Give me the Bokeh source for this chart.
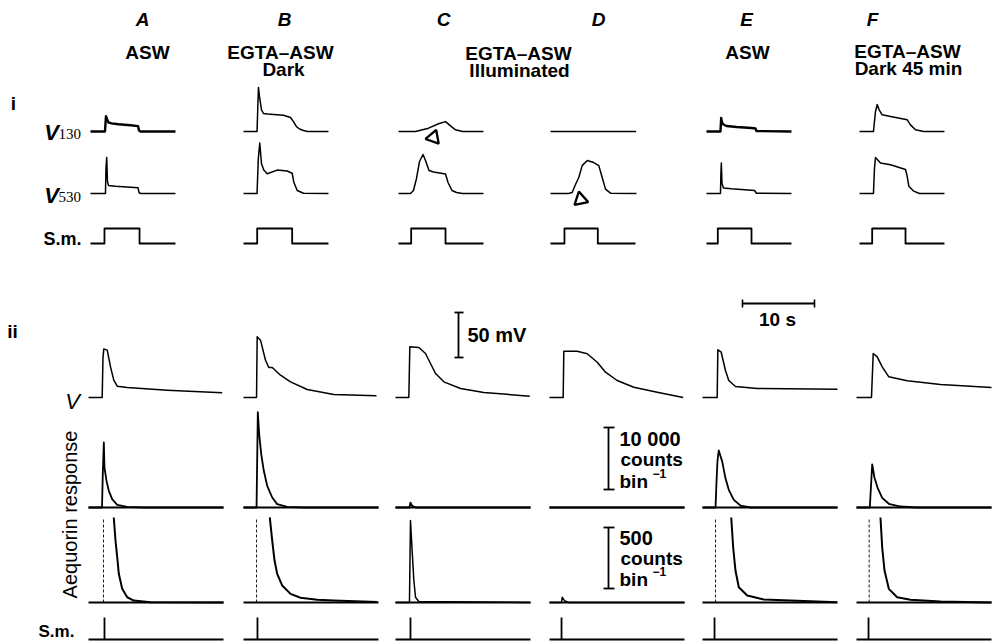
import math
from bokeh.plotting import figure
from bokeh.models import Range1d, Label
from bokeh.embed import file_html
from bokeh.resources import INLINE

# ---------------------------------------------------------------- data
# Section i traces: time (s) and membrane potential (mV, relative to rest)
A_V130_T = [0, 2.01, 2.15, 2.29, 2.5, 2.92, 3.89, 5.56, 6.6, 6.74, 6.94, 11.8]
A_V130_V = [0, 0, 17, 14, 10, 9, 8, 7, 6, 1, 0, 0]
B_V130_T = [0, 1.88, 1.99, 2.08, 2.22, 2.5, 2.78, 3.33, 5.56, 6.53, 6.94, 7.36, 7.78, 8.33, 8.89, 11.8]
B_V130_V = [0, 0, 28, 49, 39, 24, 20, 19.5, 18, 15.5, 11, 5.5, 2.8, 1.1, 0, 0]
C_V130_T = [0, 2.36, 4.17, 5.56, 6.53, 7.22, 7.92, 8.89, 11.8]
C_V130_V = [0, 0, 3.7, 8.6, 11, 6.3, 1.9, 0, 0]
D_V130_T = [0, 11.9]
D_V130_V = [0, 0]
E_V130_T = [0, 1.94, 2.04, 2.15, 2.36, 2.78, 4.17, 6.25, 6.81, 6.94, 11.8]
E_V130_V = [0, 0, 15, 10, 7.8, 6.1, 5, 3.9, 3.3, 0.5, 0]
F_V130_T = [0, 1.94, 2.22, 2.46, 2.71, 3.15, 4.31, 6.63, 7.08, 7.78, 8.89, 11.8]
F_V130_V = [0, 0, 22, 30, 24.4, 18.5, 16.7, 13, 7.4, 1.9, 0, 0]

A_V530_T = [0, 2.08, 2.15, 2.25, 2.36, 2.5, 3.47, 5.56, 6.6, 6.74, 6.94, 11.8]
A_V530_V = [0, 0, 28, 40, 13, 9, 8, 7, 6.5, 1, 0, 0]
B_V530_T = [0, 1.88, 2.06, 2.26, 2.5, 2.82, 3.29, 4.68, 6.07, 6.76, 6.99, 7.46, 8.33, 11.8]
B_V530_V = [0, 0, 39, 56, 33, 26, 22, 26, 25, 22.5, 12.5, 3.3, 0.3, 0]
C_V530_T = [0, 1.67, 2.08, 2.5, 2.92, 3.40, 3.75, 4.24, 4.86, 6.53, 6.88, 7.43, 8.06, 8.89, 11.8]
C_V530_V = [0, 0, 3.3, 16.7, 35.6, 43.3, 36.7, 25.6, 23.9, 21.7, 12.2, 3.3, 1.1, 0, 0]
D_V530_T = [0, 2.5, 3.01, 3.47, 3.93, 4.40, 5.10, 6.01, 6.71, 7.18, 7.64, 8.33, 11.94]
D_V530_V = [0, 0, 1.1, 10, 17.8, 31, 36.7, 34.4, 31, 17.8, 4.9, 0.4, 0]
E_V530_T = [0, 1.94, 2.0, 2.06, 2.15, 2.36, 3.47, 6.67, 6.94, 11.8]
E_V530_V = [0, 0, 22, 34, 11, 6.1, 5.2, 3.3, 0.3, 0]
F_V530_T = [0, 1.94, 2.08, 2.22, 2.92, 4.31, 6.39, 6.60, 6.85, 7.54, 8.33, 11.8]
F_V530_V = [0, 0, 28, 40, 34, 32, 26.7, 20, 8.1, 2.6, 0, 0]

# Section i stimulus (S.m.) pulses: on / off times (s)
SM_I_ON = [1.94, 1.9, 1.76, 1.94, 1.57, 1.76]
SM_I_OFF = [6.81, 6.76, 6.53, 6.57, 6.25, 6.39]
SM_I_END = 11.8

# Section ii: membrane potential V (mV)
A_VII_T = [0, 1.9, 2.01, 2.13, 2.6, 3.06, 3.51, 3.99, 5.38, 10.93, 18.57]
A_VII_V = [0, 0, 44, 54, 52.6, 34, 19.3, 12.6, 11.1, 8.1, 5.2]
B_VII_T = [0, 1.81, 1.9, 2.36, 3.06, 3.51, 3.99, 5.14, 6.53, 8.85, 12.54, 18.47]
B_VII_V = [0, 0, 67.4, 63.7, 41.4, 33.3, 33.3, 24.8, 17.4, 8.9, 3.3, 1.9]
C_VII_T = [0, 1.85, 1.99, 3.24, 4.17, 4.86, 5.56, 6.71, 9.03, 12.26, 18.65]
C_VII_V = [0, 0, 56.3, 55.6, 48.9, 37.8, 26.7, 17.4, 10, 5.6, 1.4]
D_VII_T = [0, 1.9, 1.99, 3.85, 5.24, 6.63, 7.78, 9.4, 11.71, 14.96, 18.57]
D_VII_V = [0, 0, 51.4, 51.4, 48.6, 39.2, 28.1, 18.9, 11.4, 5.9, 0]
E_VII_T = [0, 2.04, 2.13, 2.6, 3.19, 3.65, 4.58, 7.6, 18.75]
E_VII_V = [0, 0, 53, 50.3, 30, 18.9, 12.2, 10, 9.2]
F_VII_T = [0, 2.08, 2.32, 2.88, 3.57, 4.49, 7.04, 11.67, 18.75]
F_VII_V = [0, 0, 48.9, 45.2, 34.1, 23, 18.5, 14.4, 11.1]

# Aequorin response, high-gain scale (counts bin^-1)
A_AQ1_T = [0, 1.875, 1.99, 2.13, 2.22, 2.5, 2.82, 3.29, 3.99, 5.38, 7.64, 18.75]
A_AQ1_C = [0, 0, 5650, 10480, 6450, 4300, 2690, 1350, 430, 110, 0, 0]
B_AQ1_T = [0, 1.81, 1.99, 2.18, 2.46, 2.82, 3.29, 3.99, 4.68, 6.07, 8.33, 18.75]
B_AQ1_C = [0, 0, 15370, 11830, 8600, 5920, 3500, 1610, 540, 110, 0, 0]
C_AQ1_T = [0, 1.94, 2.08, 2.29, 2.78, 18.75]
C_AQ1_C = [0, 0, 800, 300, 0, 0]
D_AQ1_T = [0, 18.75]
D_AQ1_C = [0, 0]
E_AQ1_T = [0, 1.81, 1.94, 2.08, 2.26, 2.74, 3.19, 3.65, 4.35, 5.28, 6.67, 18.75]
E_AQ1_C = [0, 0, 4000, 7500, 9200, 7400, 4700, 2850, 1240, 320, 0, 0]
F_AQ1_T = [0, 1.85, 2.18, 2.5, 2.96, 3.57, 4.49, 6.11, 8.33, 18.75]
F_AQ1_C = [0, 0, 6940, 4800, 3070, 1560, 600, 160, 0, 0]

# Aequorin response, low scale (counts bin^-1); off-scale onsets and visible decays
AQ2_CLIP = 697
A_AQ2_ONSET = 2.08
A_AQ2_T = [3.51, 3.75, 3.99, 4.21, 4.68, 5.38, 6.29, 8.61, 18.75]
A_AQ2_C = [697, 508, 371, 235, 112, 43, 16, 2, 0]
B_AQ2_ONSET = 1.81
B_AQ2_T = [3.65, 3.99, 4.31, 4.68, 5.38, 6.53, 7.92, 10.24, 12.54, 18.6]
B_AQ2_C = [697, 508, 344, 235, 139, 71, 39, 22, 16, 4]
C_AQ2_T = [0, 1.94, 2.08, 2.31, 2.55, 2.78, 3.24, 18.75]
C_AQ2_C = [0, 0, 672, 426, 180, 43, 8, 0]
D_AQ2_T = [0, 1.67, 1.76, 2.08, 2.64, 18.75]
D_AQ2_C = [0, 0, 43, 15, 0, 0]
E_AQ2_ONSET = 1.81
E_AQ2_T = [3.99, 4.26, 4.58, 5.04, 6.21, 8.51, 12.22, 18.7]
E_AQ2_C = [697, 451, 262, 125, 57, 25, 16, 2]
F_AQ2_ONSET = 1.76
F_AQ2_T = [3.33, 3.57, 3.89, 4.49, 5.65, 7.5, 11.67, 18.75]
F_AQ2_C = [697, 451, 262, 112, 43, 22, 8, 0]

# Section ii stimulus (S.m.) times (s)
SM_II_T = [2.22, 1.94, 2.08, 1.67, 1.67, 1.67]
T_END_II = 18.75

# Onset arrows (time s, mV)
ARROW_C_V130 = (4.86, -6.7)
ARROW_D_V530 = (4.17, -6.7)

# Scale bars
BAR_MV = 50
BAR_S = 10
BAR_CNT_HI = 10000
BAR_CNT_LO = 500

COLS = ["A", "B", "C", "D", "E", "F"]

# ---------------------------------------------------------------- layout
W, H = 993, 642
PX_PER_S = 7.2
PX_PER_MV = 0.9
PX_PER_CNT_HI = 0.0062
PX_PER_CNT_LO = 0.122
SM_I_PX = 15
SM_II_PX = 22

COL_X_I = [90, 243, 398, 550, 706, 859]
COL_X_II = [88, 243, 395, 549, 702, 856]
BASE_V130, BASE_V530, BASE_SMI = 131, 193, 243
BASE_VII, BASE_AQ1, BASE_AQ2, BASE_SMII = 397, 507, 602, 639

p = figure(width=W, height=H, x_range=Range1d(0, W), y_range=Range1d(H, 0),
           x_axis_location=None, y_axis_location=None, toolbar_location=None,
           output_backend="svg", min_border=0)
p.grid.grid_line_color = None
p.outline_line_color = None
p.background_fill_color = "white"
p.border_fill_color = "white"

xr = {}
for c, x0 in zip(COLS, COL_X_I):
    xr["i" + c] = Range1d(-x0 / PX_PER_S, (W - x0) / PX_PER_S)
for c, x0 in zip(COLS, COL_X_II):
    xr["ii" + c] = Range1d(-x0 / PX_PER_S, (W - x0) / PX_PER_S)
p.extra_x_ranges = xr


def yrange(base, ppu):
    return Range1d((base - H) / ppu, base / ppu)


p.extra_y_ranges = {
    "V130": yrange(BASE_V130, PX_PER_MV),
    "V530": yrange(BASE_V530, PX_PER_MV),
    "SMi": yrange(BASE_SMI, SM_I_PX),
    "Vii": yrange(BASE_VII, PX_PER_MV),
    "AQ1": yrange(BASE_AQ1, PX_PER_CNT_HI),
    "AQ2": yrange(BASE_AQ2, PX_PER_CNT_LO),
    "SMii": yrange(BASE_SMII, SM_II_PX),
}

K = "black"


def trace(t, v, xname, yname, w=1.5, dash="solid"):
    p.line(x=t, y=v, x_range_name=xname, y_range_name=yname,
           line_color=K, line_width=w, line_dash=dash, line_join="round")


def seg(x0, y0, x1, y1, xname="default", yname="default", w=1.6, dash="solid"):
    p.segment(x0=[x0], y0=[y0], x1=[x1], y1=[y1], x_range_name=xname,
              y_range_name=yname, line_color=K, line_width=w, line_dash=dash)


def label(x, y, text, size=19, style="bold", align="center", baseline="middle",
          font="Liberation Sans", angle=0.0):
    p.add_layout(Label(x=x, y=y, text=text, text_font=font,
                       text_font_size=f"{size}px", text_font_style=style,
                       text_align=align, text_baseline=baseline, angle=angle,
                       text_color=K))


# ---- section i
V130 = [(A_V130_T, A_V130_V), (B_V130_T, B_V130_V), (C_V130_T, C_V130_V),
        (D_V130_T, D_V130_V), (E_V130_T, E_V130_V), (F_V130_T, F_V130_V)]
V530 = [(A_V530_T, A_V530_V), (B_V530_T, B_V530_V), (C_V530_T, C_V530_V),
        (D_V530_T, D_V530_V), (E_V530_T, E_V530_V), (F_V530_T, F_V530_V)]
for i, c in enumerate(COLS):
    w130 = 2.4 if c in ("A", "E") else 1.5
    trace(*V130[i], "i" + c, "V130", w=w130)
    trace(*V530[i], "i" + c, "V530", w=1.5)
    on, off = SM_I_ON[i], SM_I_OFF[i]
    trace([0, on, on, off, off, SM_I_END], [0, 0, 1, 1, 0, 0], "i" + c, "SMi", w=1.8)

for (t, v), c, yn, ang in [(ARROW_C_V130, "C", "V130", 1.75), (ARROW_D_V530, "D", "V530", 2.3)]:
    p.scatter(x=[t], y=[v], marker="triangle", size=14, angle=ang,
              x_range_name="i" + c, y_range_name=yn,
              fill_color="white", line_color=K, line_width=2.3)

# ---- section ii
VII = [(A_VII_T, A_VII_V), (B_VII_T, B_VII_V), (C_VII_T, C_VII_V),
       (D_VII_T, D_VII_V), (E_VII_T, E_VII_V), (F_VII_T, F_VII_V)]
AQ1 = [(A_AQ1_T, A_AQ1_C), (B_AQ1_T, B_AQ1_C), (C_AQ1_T, C_AQ1_C),
       (D_AQ1_T, D_AQ1_C), (E_AQ1_T, E_AQ1_C), (F_AQ1_T, F_AQ1_C)]
AQ2 = {"A": (A_AQ2_ONSET, A_AQ2_T, A_AQ2_C), "B": (B_AQ2_ONSET, B_AQ2_T, B_AQ2_C),
       "C": (None, C_AQ2_T, C_AQ2_C), "D": (None, D_AQ2_T, D_AQ2_C),
       "E": (E_AQ2_ONSET, E_AQ2_T, E_AQ2_C), "F": (F_AQ2_ONSET, F_AQ2_T, F_AQ2_C)}

for i, c in enumerate(COLS):
    xn = "ii" + c
    trace(*VII[i], xn, "Vii", w=1.5)
    # aequorin high-gain
    trace([0, T_END_II], [0, 0], xn, "AQ1", w=2.0)
    trace(*AQ1[i], xn, "AQ1", w=1.8)
    # aequorin low scale
    trace([0, T_END_II], [0, 0], xn, "AQ2", w=2.0)
    onset, t2, c2 = AQ2[c]
    if onset is not None:
        seg(onset, 0, onset, AQ2_CLIP, xn, "AQ2", w=0.9, dash="3 2")
    trace(t2, c2, xn, "AQ2", w=2.0 if c in ("A", "B", "E", "F") else 1.5)
    # stimulus
    trace([0, T_END_II], [0, 0], xn, "SMii", w=2.0)
    seg(SM_II_T[i], 0, SM_II_T[i], 1, xn, "SMii", w=1.8)

# ---- scale bars
mv0 = (BASE_VII - 357) / PX_PER_MV
seg(458, mv0, 458, mv0 + BAR_MV, "default", "Vii", w=1.8)
seg(454, mv0, 463, mv0, "default", "Vii", w=1.8)
seg(454, mv0 + BAR_MV, 463, mv0 + BAR_MV, "default", "Vii", w=1.8)
label(467, 334, "50 mV", size=20, align="left")

s0 = (742 - COL_X_II[4]) / PX_PER_S
seg(s0, 303, s0 + BAR_S, 303, "iiE", "default", w=1.8)
seg(s0, 299, s0, 307, "iiE", "default", w=1.6)
seg(s0 + BAR_S, 299, s0 + BAR_S, 307, "iiE", "default", w=1.6)
label(777, 319, "10 s")

c0 = (BASE_AQ1 - 489) / PX_PER_CNT_HI
seg(608, c0, 608, c0 + BAR_CNT_HI, "default", "AQ1", w=1.8)
seg(603, c0, 614, c0, "default", "AQ1", w=1.8)
seg(603, c0 + BAR_CNT_HI, 614, c0 + BAR_CNT_HI, "default", "AQ1", w=1.8)
label(619, 438, "10 000", size=20, align="left")
label(620, 459, "counts", align="left")
label(619, 481, "bin", align="left")
label(652, 473, "\u22121", size=12, align="left")

c1 = (BASE_AQ2 - 588) / PX_PER_CNT_LO
seg(608, c1, 608, c1 + BAR_CNT_LO, "default", "AQ2", w=1.8)
seg(603, c1, 614, c1, "default", "AQ2", w=1.8)
seg(603, c1 + BAR_CNT_LO, 614, c1 + BAR_CNT_LO, "default", "AQ2", w=1.8)
label(619, 537, "500", size=20, align="left")
label(620, 558, "counts", align="left")
label(619, 579, "bin", align="left")
label(652, 571, "\u22121", size=12, align="left")

# ---- text
for c, x in zip(COLS, [142, 284, 443, 598, 746, 872]):
    label(x, 19, c, size=19, style="bold italic")

for txt, x, y in [("ASW", 147, 52), ("EGTA\u2013ASW", 280, 52), ("Dark", 283, 69),
                  ("EGTA\u2013ASW", 518, 53), ("Illuminated", 519, 70),
                  ("ASW", 747, 52), ("EGTA\u2013ASW", 907, 51), ("Dark 45 min", 908, 68)]:
    label(x, y, txt, size=19)

label(13, 103, "i", size=19, align="center")
label(12, 331, "ii", size=19, align="center")

label(51, 132, "V", size=22, style="bold italic", baseline="alphabetic")
label(58, 133, "130", size=15, style="normal", align="left", baseline="alphabetic",
      font="Liberation Serif")
label(51, 195, "V", size=22, style="bold italic", baseline="alphabetic")
label(58, 196, "530", size=15, style="normal", align="left", baseline="alphabetic",
      font="Liberation Serif")
label(43, 238, "S.m.", size=18, align="left")
label(72, 401, "V", size=22, style="italic", baseline="alphabetic")
label(69, 514, "Aequorin response", size=20, style="normal", angle=math.pi / 2)
label(38, 631, "S.m.", size=17, align="left")

open("out.html", "w").write(file_html(p, INLINE))
